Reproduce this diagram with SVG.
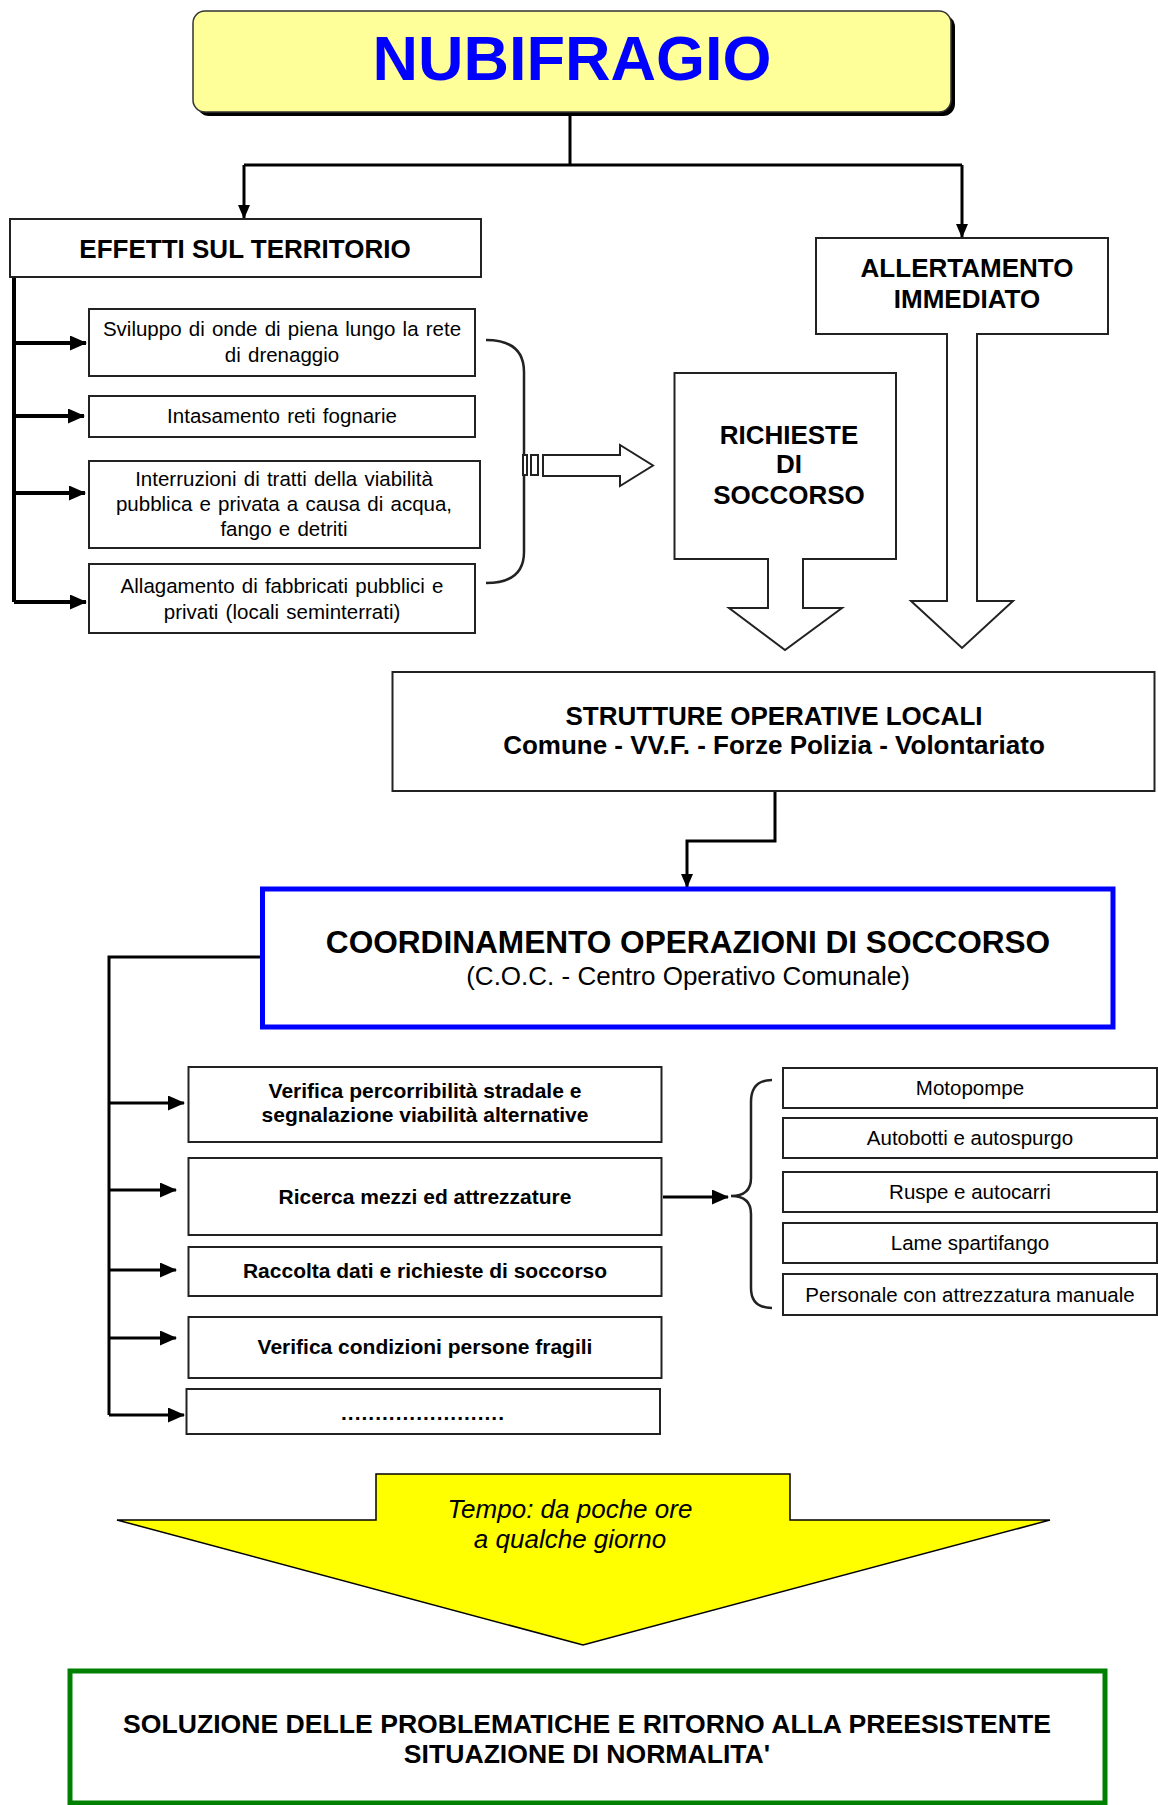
<svg xmlns="http://www.w3.org/2000/svg" width="1158" height="1805" viewBox="0 0 1158 1805">
<style>
text{font-family:"Liberation Sans",Arial,sans-serif;fill:#000;text-anchor:middle}
.b{font-weight:bold}
.t26{font-size:26px}
.s20{font-size:20.5px;word-spacing:1.5px}
.m21{font-size:21px;font-weight:bold}
.r20{font-size:20.5px}
.box{fill:#fff;stroke:#222;stroke-width:2}
.ln{fill:none;stroke:#000;stroke-width:3}
.thick{fill:none;stroke:#000;stroke-width:4}
.hol{fill:#fff;stroke:#222;stroke-width:2;stroke-linejoin:miter}
</style>
<defs>
<marker id="ah" viewBox="0 0 14 12" refX="13" refY="6" markerWidth="14" markerHeight="12" markerUnits="userSpaceOnUse" orient="auto">
<path d="M0,0 L14,6 L0,12 z" fill="#000"/>
</marker>
<marker id="ahb" viewBox="0 0 17 15" refX="16" refY="7.5" markerWidth="17" markerHeight="15" markerUnits="userSpaceOnUse" orient="auto">
<path d="M0,0 L17,7.5 L0,15 z" fill="#000"/>
</marker>
</defs>

<g id="connectors">
<path class="ln" d="M570,116 V165"/>
<path class="ln" d="M244,165 H962"/>
<path class="ln" d="M244,165 V218" marker-end="url(#ah)"/>
<path class="ln" d="M962,165 V237" marker-end="url(#ah)"/>
<path class="thick" d="M14,277 V602"/>
<path class="thick" d="M14,343 H86" marker-end="url(#ahb)"/>
<path class="thick" d="M14,416 H84" marker-end="url(#ahb)"/>
<path class="thick" d="M14,493 H85" marker-end="url(#ahb)"/>
<path class="thick" d="M14,602 H86" marker-end="url(#ahb)"/>
<path d="M486,340 Q524,340 524,372 V552 Q524,583 486,583" fill="none" stroke="#222" stroke-width="2.5"/>
<rect x="523" y="455" width="4" height="20" class="hol"/>
<rect x="531" y="455" width="7" height="20" class="hol"/>
<polygon class="hol" points="543,455 620,455 620,445 653,465.5 620,486 620,476 543,476"/>
<path class="ln" d="M775,791 V841 H687 V887" marker-end="url(#ah)"/>
<path class="ln" d="M262,957 H109 V1415"/>
<path class="ln" d="M109,1103 H184" marker-end="url(#ahb)"/>
<path class="ln" d="M109,1190 H176" marker-end="url(#ahb)"/>
<path class="ln" d="M109,1270 H176" marker-end="url(#ahb)"/>
<path class="ln" d="M109,1338 H176" marker-end="url(#ahb)"/>
<path class="ln" d="M109,1415 H184" marker-end="url(#ahb)"/>
<path class="ln" d="M663,1197 H728" marker-end="url(#ahb)"/>
<path d="M772,1080 Q751,1080 751,1102 V1178 Q751,1196 731,1196 Q751,1196 751,1214 V1288 Q751,1308 772,1308" fill="none" stroke="#222" stroke-width="2.5"/>
</g>

<g id="nubifragio">
<rect x="197" y="15" width="758" height="101" rx="12" fill="#000"/>
<rect x="193" y="11" width="758" height="101" rx="12" fill="#FFFF99" stroke="#333" stroke-width="1.5"/>
<text x="572" y="80" class="b" style="font-size:63px;fill:#0000FF">NUBIFRAGIO</text>
</g>

<g id="effetti">
<rect x="10" y="219" width="471" height="58" class="box"/>
<text x="245" y="258" class="b t26">EFFETTI SUL TERRITORIO</text>
</g>

<g id="effetto1">
<rect x="89" y="309" width="386" height="67" class="box"/>
<text x="282" y="336" class="s20">Sviluppo di onde di piena lungo la rete</text>
<text x="282" y="362" class="s20">di drenaggio</text>
</g>
<g id="effetto2">
<rect x="89" y="396" width="386" height="41" class="box"/>
<text x="282" y="423" class="s20">Intasamento reti fognarie</text>
</g>
<g id="effetto3">
<rect x="89" y="461" width="391" height="87" class="box"/>
<text x="284" y="486" class="s20">Interruzioni di tratti della viabilità</text>
<text x="284" y="511" class="s20">pubblica e privata a causa di acqua,</text>
<text x="284" y="536" class="s20">fango e detriti</text>
</g>
<g id="effetto4">
<rect x="89" y="564" width="386" height="69" class="box"/>
<text x="282" y="593" class="s20">Allagamento di fabbricati pubblici e</text>
<text x="282" y="619" class="s20">privati (locali seminterrati)</text>
</g>

<g id="allertamento">
<path d="M947,334 H816 V238 H1108 V334 H977" fill="#fff" stroke="#222" stroke-width="2"/>
<polygon points="947,334 947,601 911,601 962,648 1013,601 977,601 977,334" fill="#fff"/>
<polyline points="947,333 947,601 911,601 962,648 1013,601 977,601 977,333" fill="none" stroke="#222" stroke-width="2"/>
<text x="967" y="277" class="b t26">ALLERTAMENTO</text>
<text x="967" y="308" class="b t26">IMMEDIATO</text>
</g>

<g id="richieste">
<path d="M768,559 H674.5 V373 H896 V559 H803" fill="#fff" stroke="#222" stroke-width="2"/>
<polyline points="768,558 768,608 729,608 785,650 842,608 803,608 803,558" fill="#fff" stroke="#222" stroke-width="2"/>
<text x="789" y="444" class="b t26">RICHIESTE</text>
<text x="789" y="473" class="b t26">DI</text>
<text x="789" y="504" class="b t26">SOCCORSO</text>
</g>

<g id="strutture">
<rect x="392.5" y="672" width="762" height="119" class="box"/>
<text x="774" y="725" class="b t26">STRUTTURE OPERATIVE LOCALI</text>
<text x="774" y="754" class="b t26">Comune - VV.F. - Forze Polizia - Volontariato</text>
</g>

<g id="coc">
<rect x="262.5" y="889" width="850.5" height="138" fill="#fff" stroke="#0000FF" stroke-width="5"/>
<text x="688" y="953" class="b" style="font-size:31.6px">COORDINAMENTO OPERAZIONI DI SOCCORSO</text>
<text x="688" y="985" class="t26">(C.O.C. - Centro Operativo Comunale)</text>
</g>

<g id="azione1">
<rect x="188.5" y="1067" width="473" height="75" class="box"/>
<text x="425" y="1098" class="m21">Verifica percorribilità stradale e</text>
<text x="425" y="1122" class="m21">segnalazione viabilità alternative</text>
</g>
<g id="azione2">
<rect x="188.5" y="1158" width="473" height="77" class="box"/>
<text x="425" y="1204" class="m21">Ricerca mezzi ed attrezzature</text>
</g>
<g id="azione3">
<rect x="188.5" y="1247" width="473" height="49" class="box"/>
<text x="425" y="1278" class="m21">Raccolta dati e richieste di soccorso</text>
</g>
<g id="azione4">
<rect x="188.5" y="1317" width="473" height="61" class="box"/>
<text x="425" y="1354" class="m21">Verifica condizioni persone fragili</text>
</g>
<g id="azione5">
<rect x="186.5" y="1389" width="473.5" height="45" class="box"/>
<text x="423" y="1420" class="m21" style="letter-spacing:1px">........................</text>
</g>

<g id="mezzo1">
<rect x="783" y="1068" width="374" height="40" class="box"/>
<text x="970" y="1095" class="r20">Motopompe</text>
</g>
<g id="mezzo2">
<rect x="783" y="1118" width="374" height="40" class="box"/>
<text x="970" y="1145" class="r20">Autobotti e autospurgo</text>
</g>
<g id="mezzo3">
<rect x="783" y="1172" width="374" height="40" class="box"/>
<text x="970" y="1199" class="r20">Ruspe e autocarri</text>
</g>
<g id="mezzo4">
<rect x="783" y="1223" width="374" height="40" class="box"/>
<text x="970" y="1250" class="r20">Lame spartifango</text>
</g>
<g id="mezzo5">
<rect x="783" y="1274" width="374" height="41" class="box"/>
<text x="970" y="1302" class="r20">Personale con attrezzatura manuale</text>
</g>

<g id="tempo">
<polygon points="376,1474 790,1474 790,1520 1050,1520 583,1645 117,1520 376,1520" fill="#FFFF00" stroke="#000" stroke-width="1.5" stroke-linejoin="miter"/>
<text x="570" y="1518" class="t26" style="font-style:italic">Tempo: da poche ore</text>
<text x="570" y="1548" class="t26" style="font-style:italic">a qualche giorno</text>
</g>

<g id="soluzione">
<rect x="70" y="1671" width="1035" height="132" fill="#fff" stroke="#008000" stroke-width="5"/>
<text x="587" y="1733" class="b" style="font-size:26.6px">SOLUZIONE DELLE PROBLEMATICHE E RITORNO ALLA PREESISTENTE</text>
<text x="587" y="1763" class="b" style="font-size:26.6px">SITUAZIONE DI NORMALITA'</text>
</g>
</svg>
